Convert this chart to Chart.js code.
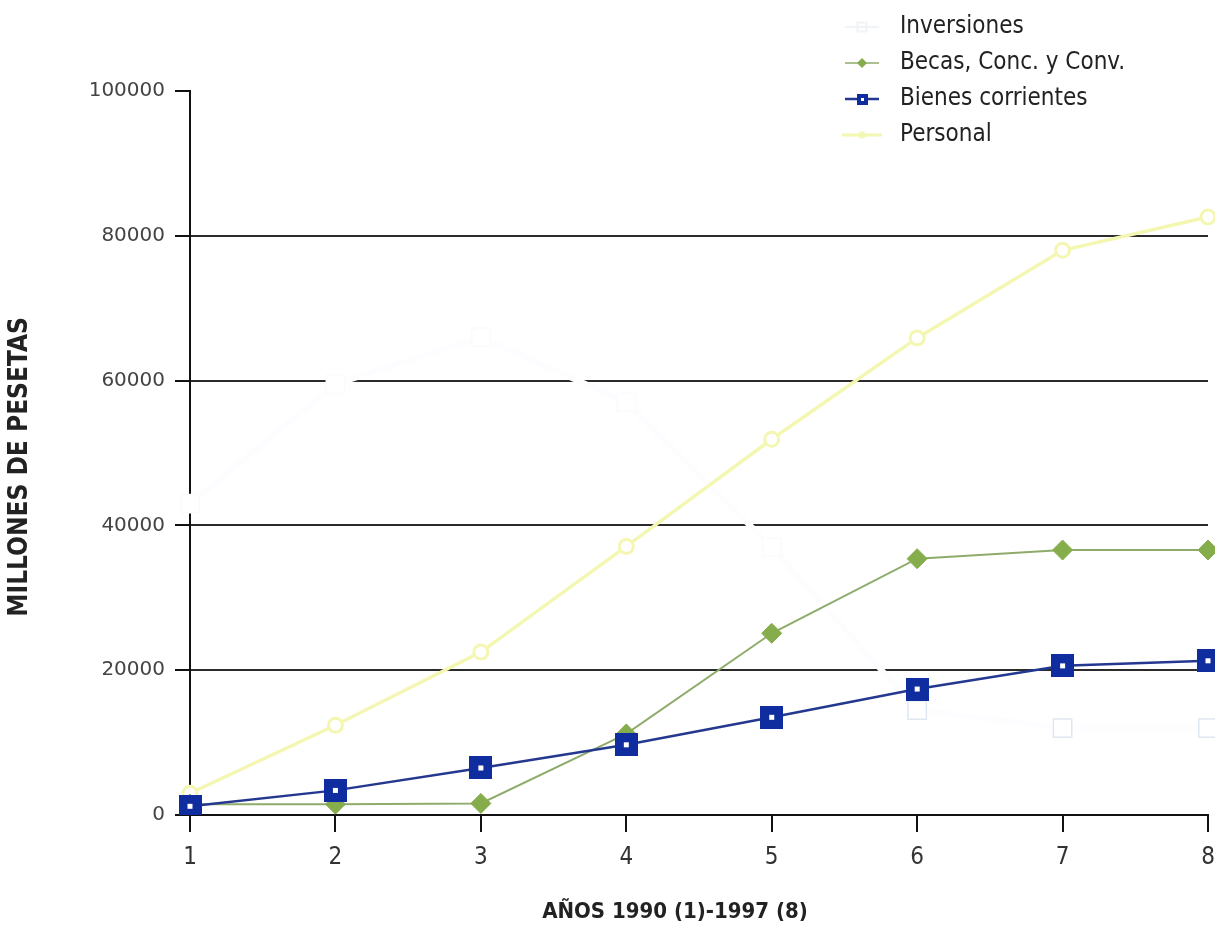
<!DOCTYPE html>
<html>
<head>
<meta charset="utf-8">
<script src="https://cdn.jsdelivr.net/npm/chart.js@4.4.0/dist/chart.umd.min.js"></script>
<style>
html,body{margin:0;padding:0;background:#fff;}
#wrap{width:1215px;height:948px;position:relative;}
</style>
</head>
<body>
<div id="wrap"><canvas id="c"></canvas></div>
<script>
// ---- data ----
const years = ['1','2','3','4','5','6','7','8'];
const yTicks = [0, 20000, 40000, 60000, 80000, 100000];
const seriesNames = ['Inversiones', 'Becas, Conc. y Conv.', 'Bienes corrientes', 'Personal'];
const inversiones = [43000, 59500, 66000, 57000, 37000, 14500, 12000, 12000];
const becas       = [1500, 1500, 1600, 11200, 25100, 35400, 36600, 36600];
const bienes      = [1200, 3400, 6500, 9700, 13500, 17400, 20600, 21300];
const personal    = [3000, 12400, 22500, 37100, 51900, 65900, 78000, 82600];
const xTitle = 'AÑOS 1990 (1)-1997 (8)';
const yTitle = 'MILLONES DE PESETAS';

// ---- styles ----
const CF = "'Liberation Sans Narrow', 'DejaVu Sans Condensed', 'Arial Narrow', sans-serif";
const NF = "'DejaVu Sans', 'Liberation Sans', Arial, sans-serif";
const C_INV_LINE = '#fdfdff';
const C_INV_FAINT = '#fafbfd';
const C_INV = '#dfe7f0';
const C_BEC_LINE = '#8fab6c';
const C_BEC = '#86ad4c';
const C_BIE_LINE = '#24388f';
const C_BIE = '#0f2d9e';
const C_PER = '#f4f7b2';

function mk(w, h, fn) {
  const c = document.createElement('canvas');
  c.width = w; c.height = h;
  fn(c.getContext('2d'), w, h);
  return c;
}
// point image for Bienes corrientes: filled square with white centre
const bienesPoint = mk(23, 23, (g, w, h) => {
  g.fillStyle = C_BIE; g.fillRect(0, 0, w, h);
  g.fillStyle = '#fff'; g.fillRect(9, 9, 5, 5);
});
// legend icons (line + marker)
const legendIcons = [
  mk(34, 20, (g, w, h) => {
    g.strokeStyle = '#f0f3f8'; g.lineWidth = 2;
    g.beginPath(); g.moveTo(0, 10); g.lineTo(w, 10); g.stroke();
    g.strokeRect(12.5, 5.5, 9, 9);
  }),
  mk(34, 20, (g, w, h) => {
    g.strokeStyle = C_BEC_LINE; g.lineWidth = 1.5;
    g.beginPath(); g.moveTo(0, 10); g.lineTo(w, 10); g.stroke();
    g.fillStyle = C_BEC; g.beginPath();
    g.moveTo(17, 5); g.lineTo(22, 10); g.lineTo(17, 15); g.lineTo(12, 10); g.closePath(); g.fill();
  }),
  mk(34, 20, (g, w, h) => {
    g.strokeStyle = C_BIE_LINE; g.lineWidth = 2.5;
    g.beginPath(); g.moveTo(0, 10); g.lineTo(w, 10); g.stroke();
    g.fillStyle = C_BIE; g.fillRect(12, 5, 11, 11);
    g.fillStyle = '#fff'; g.fillRect(16, 9, 3, 3);
  }),
  mk(40, 20, (g, w, h) => {
    g.strokeStyle = C_PER; g.lineWidth = 3;
    g.beginPath(); g.moveTo(0, 10); g.lineTo(w, 10); g.stroke();
    g.fillStyle = C_PER; g.beginPath(); g.arc(20, 10, 3.5, 0, Math.PI * 2); g.fill();
  })
];

const X_TITLE_SIZE = 22, Y_TITLE_SIZE = 26;

// places the legend and the two axis titles where the original has them
const placer = {
  id: 'placer',
  afterLayout(chart) {
    const l = chart.legend;
    if (l) {
      const w = l.width;
      l.left = 824; l.right = 824 + w;
      l.top = 3; l.bottom = 400;
    }
    chart.boxes.forEach(b => {
      if (!b.options || b.options.text === undefined) return;
      if (b.options.text === xTitle) {
        const lh = X_TITLE_SIZE * 1.2;
        b.left = 675 - 400; b.right = 675 + 400;
        b.top = 912 - lh / 2; b.bottom = b.top + lh;
      } else if (b.options.text === yTitle) {
        const lh = Y_TITLE_SIZE * 1.2;
        b.left = 20 - lh / 2; b.right = b.left + lh;
        b.top = 467 - 400; b.bottom = 467 + 400;
      }
    });
  }
};

new Chart(document.getElementById('c'), {
  type: 'line',
  data: {
    labels: years,
    datasets: [
      { label: seriesNames[0], data: inversiones, order: 4,
        borderColor: C_INV_LINE, borderWidth: 6, pointStyle: 'rect', pointRadius: 13,
        pointBorderColor: [C_INV_FAINT, C_INV_FAINT, C_INV_FAINT, C_INV_FAINT, C_INV_FAINT, C_INV, C_INV, C_INV],
        pointBackgroundColor: '#fff', pointBorderWidth: 1.5, tension: 0 },
      { label: seriesNames[1], data: becas, order: 2,
        borderColor: C_BEC_LINE, borderWidth: 2, pointStyle: 'rectRot', pointRadius: 10,
        pointBorderColor: C_BEC, pointBackgroundColor: C_BEC, pointBorderWidth: 1, tension: 0 },
      { label: seriesNames[2], data: bienes, order: 1,
        borderColor: C_BIE_LINE, borderWidth: 2.5, pointStyle: bienesPoint, pointRadius: 11,
        pointBorderColor: C_BIE, pointBackgroundColor: C_BIE, tension: 0 },
      { label: seriesNames[3], data: personal, order: 3,
        borderColor: C_PER, borderWidth: 3.5, pointStyle: 'circle', pointRadius: 7,
        pointBorderColor: C_PER, pointBackgroundColor: '#fff', pointBorderWidth: 3, tension: 0 }
    ]
  },
  options: {
    responsive: true,
    maintainAspectRatio: false,
    animation: false,
    events: [],
    layout: { autoPadding: false, padding: { left: 0, top: 91, right: 7, bottom: 0 } },
    plugins: {
      tooltip: { enabled: false },
      title: {
        display: true, position: 'bottom', text: xTitle, color: '#222',
        font: { family: CF, size: X_TITLE_SIZE, weight: 'bold' }, padding: 0
      },
      subtitle: {
        display: true, position: 'left', text: yTitle, color: '#222',
        font: { family: CF, size: Y_TITLE_SIZE, weight: 'bold' }, padding: 0
      },
      legend: {
        position: 'chartArea',
        align: 'start',
        labels: {
          usePointStyle: true,
          pointStyleWidth: 52,
          boxHeight: 20,
          padding: 12,
          color: '#222',
          font: { family: CF, size: 24 },
          generateLabels(chart) {
            const items = Chart.defaults.plugins.legend.labels.generateLabels(chart);
            items.forEach(it => { it.pointStyle = legendIcons[it.datasetIndex]; });
            return items;
          },
          sort: (a, b) => a.datasetIndex - b.datasetIndex
        }
      }
    },
    scales: {
      x: {
        type: 'category',
        offset: false,
        grid: { drawOnChartArea: false, drawTicks: true, tickLength: 17, color: '#111', lineWidth: 2 },
        border: { display: true, color: '#111', width: 2 },
        ticks: { font: { family: CF, size: 24 }, color: '#333', padding: 11, maxRotation: 0, autoSkip: false },
        afterFit(s) {
          s.height = 133 - X_TITLE_SIZE * 1.2;
          s.paddingLeft = 0; s.paddingRight = 0;
        }
      },
      y: {
        min: 0, max: 100000,
        afterBuildTicks(s) { s.ticks = yTicks.map(v => ({ value: v })); },
        grid: {
          color: c => (c.tick && c.tick.value === 100000) ? 'rgba(0,0,0,0)' : '#2b2b2b',
          tickColor: '#111', lineWidth: 2, tickLength: 15, drawTicks: true
        },
        border: { display: true, color: '#111', width: 2 },
        ticks: { font: { family: NF, size: 20 }, color: '#444', padding: 10, callback: v => String(v) },
        afterFit(s) {
          s.width = 190 - Y_TITLE_SIZE * 1.2;
          s.paddingTop = 0; s.paddingBottom = 0;
        }
      }
    }
  },
  plugins: [placer]
});
</script>
</body>
</html>
